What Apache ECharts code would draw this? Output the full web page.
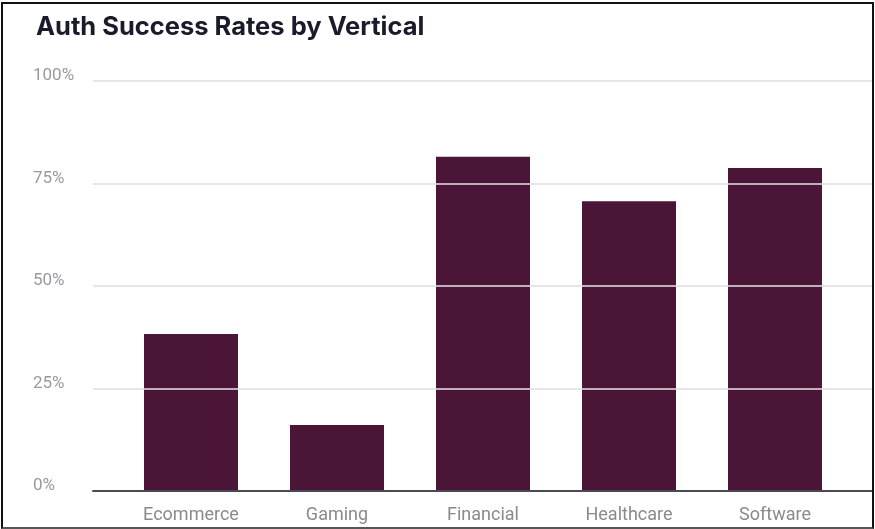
<!DOCTYPE html>
<html>
<head>
<meta charset="utf-8">
<script src="https://cdn.jsdelivr.net/npm/echarts@6/dist/echarts.min.js"></script>
<style>
html,body{margin:0;padding:0;background:#fff;}
#chart{position:absolute;left:0;top:0;width:875px;height:529px;}
#frame{position:absolute;left:1px;top:2px;width:873px;height:527px;box-sizing:border-box;border-top:2px solid #111;border-left:2px solid #111;border-right:2px solid #111;border-bottom:2px solid #555;pointer-events:none;}
</style>
</head>
<body>
<div id="chart"></div>
<div id="frame"></div>
<script>
const titleText = 'Auth Success Rates by Vertical';
const categories = ['Ecommerce', 'Gaming', 'Financial', 'Healthcare', 'Software'];
const successRates = [38.3, 16.1, 81.5, 70.7, 78.8];
const yTicks = [0, 25, 50, 75, 100];

const chart = echarts.init(document.getElementById('chart'));
const option = {
  backgroundColor: 'transparent',
  animation: false,
  title: {
    text: titleText,
    left: 36, top: 14, padding: 0,
    textStyle: {fontFamily: 'Inter', fontWeight: 'bold', fontSize: 25.5, color: '#1b1a2b'}
  },
  grid: [
    {left: 118, right: 27, top: 81, bottom: 38},
    {left: 93, right: 2, top: 81, bottom: 38}
  ],
  xAxis: [
    {
      type: 'category', gridIndex: 0, data: categories,
      axisLine: {show: false}, axisTick: {show: false},
      axisLabel: {fontFamily: 'Roboto', fontSize: 18, color: '#8a8a8e', margin: 15}
    },
    {
      type: 'value', gridIndex: 1, min: 0, max: 1, z: 6,
      axisLine: {show: true, onZero: false, lineStyle: {color: '#4a4a55', width: 2}},
      axisTick: {show: false}, axisLabel: {show: false}, splitLine: {show: false}
    }
  ],
  yAxis: [
    {
      type: 'value', gridIndex: 0, min: yTicks[0], max: yTicks[yTicks.length - 1], interval: 25,
      show: false, splitLine: {show: false}
    },
    {
      type: 'value', gridIndex: 1, min: yTicks[0], max: yTicks[yTicks.length - 1], interval: 25, z: 5,
      axisLine: {show: false}, axisTick: {show: false},
      axisLabel: {
        formatter: '{value}%', align: 'left', margin: 60, verticalAlign: 'bottom', lineHeight: 10,
        fontFamily: 'Roboto', fontSize: 17, color: '#9a9a9e'
      },
      splitLine: {show: true, lineStyle: {color: 'rgba(223,223,223,0.78)', width: 2}}
    }
  ],
  series: [{
    type: 'bar', xAxisIndex: 0, yAxisIndex: 0,
    data: successRates, barWidth: 94,
    itemStyle: {color: '#4a1537'}
  }]
};
chart.setOption(option);
</script>
</body>
</html>
